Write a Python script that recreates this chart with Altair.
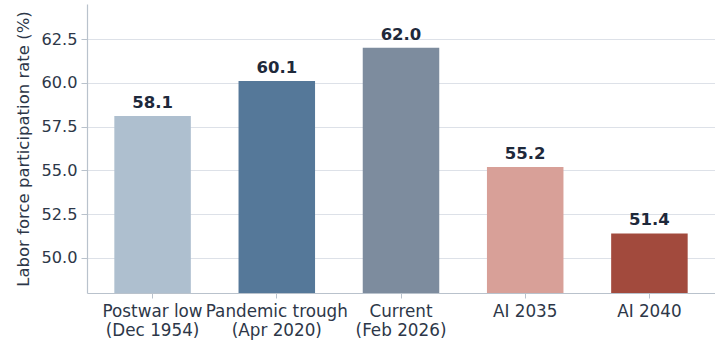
import altair as alt
import pandas as pd

categories = ["Postwar low\n(Dec 1954)", "Pandemic trough\n(Apr 2020)", "Current\n(Feb 2026)", "AI 2035", "AI 2040"]
values = [58.1, 60.1, 62.0, 55.2, 51.4]
colors = ["#aebfcf", "#557899", "#7d8c9e", "#d8a098", "#a24a3d"]
y_ticks = [50.0, 52.5, 55.0, 57.5, 60.0, 62.5]

df = pd.DataFrame({"cat": categories, "val": values, "color": colors})

FONT = "DejaVu Sans"
TXT = "#2d3748"

x = alt.X("cat:N", sort=categories, title=None,
          scale=alt.Scale(paddingInner=0.384, paddingOuter=0.22),
          axis=alt.Axis(labelAngle=0, labelExpr="split(datum.label, '\\n')",
                        labelFontSize=16.8, labelFont=FONT, labelColor=TXT,
                        labelLineHeight=19, labelPadding=5,
                        tickSize=5, tickColor="#b9c2cc", domainColor="#b9c2cc",
                        domainWidth=1.2, grid=False))
y = alt.Y("val:Q", title="Labor force participation rate (%)",
          scale=alt.Scale(domain=[48, 64.5], zero=False, nice=False),
          axis=alt.Axis(values=y_ticks, format=".1f", labelFontSize=16.2, labelFont=FONT,
                        labelColor=TXT, labelPadding=4, tickSize=6, tickColor="#b9c2cc",
                        domainColor="#b9c2cc", domainWidth=1.2,
                        grid=True, gridColor="#dde1e8", gridWidth=1,
                        titleFontSize=16.5, titleFont=FONT, titleFontWeight="normal",
                        titleColor=TXT, titlePadding=9))

bars = alt.Chart(df).mark_bar(clip=True).encode(
    x=x, y=y, color=alt.Color("color:N", scale=None)
)
labels = alt.Chart(df).mark_text(
    font=FONT, fontSize=16.5, fontWeight="bold", color="#1e293b",
    baseline="alphabetic", dy=-8
).encode(x=alt.X("cat:N", sort=categories), y=alt.Y("val:Q"), text=alt.Text("val:Q", format=".1f"))

chart = alt.layer(bars, labels).properties(
    width=628, height=289,
    autosize=alt.AutoSizeParams(type="none"),
    padding={"left": 87, "top": 4, "right": 0, "bottom": 50},
).configure_view(stroke=None)

chart.save("out.html", embed_options={"renderer": "svg", "actions": False})
